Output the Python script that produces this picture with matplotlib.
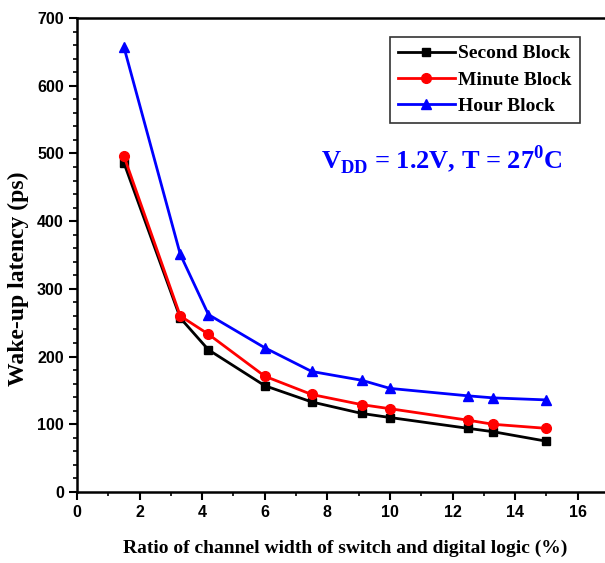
import matplotlib.pyplot as plt
from matplotlib.ticker import MultipleLocator

# ratio of channel width (%)
ratio = [1.5, 3.3, 4.2, 6.0, 7.5, 9.1, 10.0, 12.5, 13.3, 15.0]
second_block = [486, 257, 210, 157, 133, 116, 110, 94, 89, 75]
minute_block = [496, 260, 233, 171, 144, 129, 123, 106, 100, 94]
hour_block = [657, 351, 262, 213, 178, 165, 153, 142, 139, 136]

serif = ['Liberation Serif', 'DejaVu Serif']
sans = ['Liberation Sans', 'DejaVu Sans']

plt.rcParams['mathtext.fontset'] = 'custom'
plt.rcParams['mathtext.rm'] = 'Liberation Serif:bold'
plt.rcParams['mathtext.bf'] = 'Liberation Serif:bold'

fig = plt.figure(figsize=(6.05, 5.63), dpi=100)
ax = fig.add_axes([77 / 605, 1 - 492 / 563, (609 - 77) / 605, (492 - 18) / 563])

ax.plot(ratio, second_block, color='black', marker='s', ms=6, lw=2, label='Second Block')
ax.plot(ratio, minute_block, color='red', marker='o', ms=7, lw=2, label='Minute Block')
ax.plot(ratio, hour_block, color='blue', marker='^', ms=7, lw=2, label='Hour Block')

ax.set_xlim(0, 17)
ax.set_ylim(0, 700)
ax.xaxis.set_major_locator(MultipleLocator(2))
ax.xaxis.set_minor_locator(MultipleLocator(1))
ax.yaxis.set_major_locator(MultipleLocator(100))
ax.yaxis.set_minor_locator(MultipleLocator(20))
ax.tick_params(which='major', direction='out', length=6, width=1.5)
ax.tick_params(which='minor', direction='out', length=3, width=1.2)
for sp in ax.spines.values():
    sp.set_linewidth(1.8)

for lbl in ax.get_xticklabels() + ax.get_yticklabels():
    lbl.set_family(sans)
    lbl.set_fontweight('bold')
    lbl.set_fontsize(11.5)

ax.set_xlabel('Ratio of channel width of switch and digital logic (%)',
              family=serif, fontweight='bold', fontsize=14)
ax.xaxis.set_label_coords(0.505, -0.1)
ax.set_ylabel('Wake-up latency (ps)', family=serif, fontweight='bold', fontsize=17)
ax.yaxis.set_label_coords(-0.09, 0.45)

leg = ax.legend(loc='upper left', bbox_to_anchor=(0.589, 0.96), prop={'family': serif, 'weight': 'bold', 'size': 14},
                fancybox=False, edgecolor='black', handlelength=2.9, handletextpad=0.2,
                borderpad=0.4, labelspacing=0.45, borderaxespad=0)
leg.get_frame().set_linewidth(1.2)

ax.text(7.8, 490, r'V$_{\mathbf{DD}}$ = 1.2V, T = 27$^{\mathbf{0}}$C', color='blue', family=serif,
        fontweight='bold', fontsize=19, va='center', ha='left')

fig.savefig('out.png', dpi=100)
